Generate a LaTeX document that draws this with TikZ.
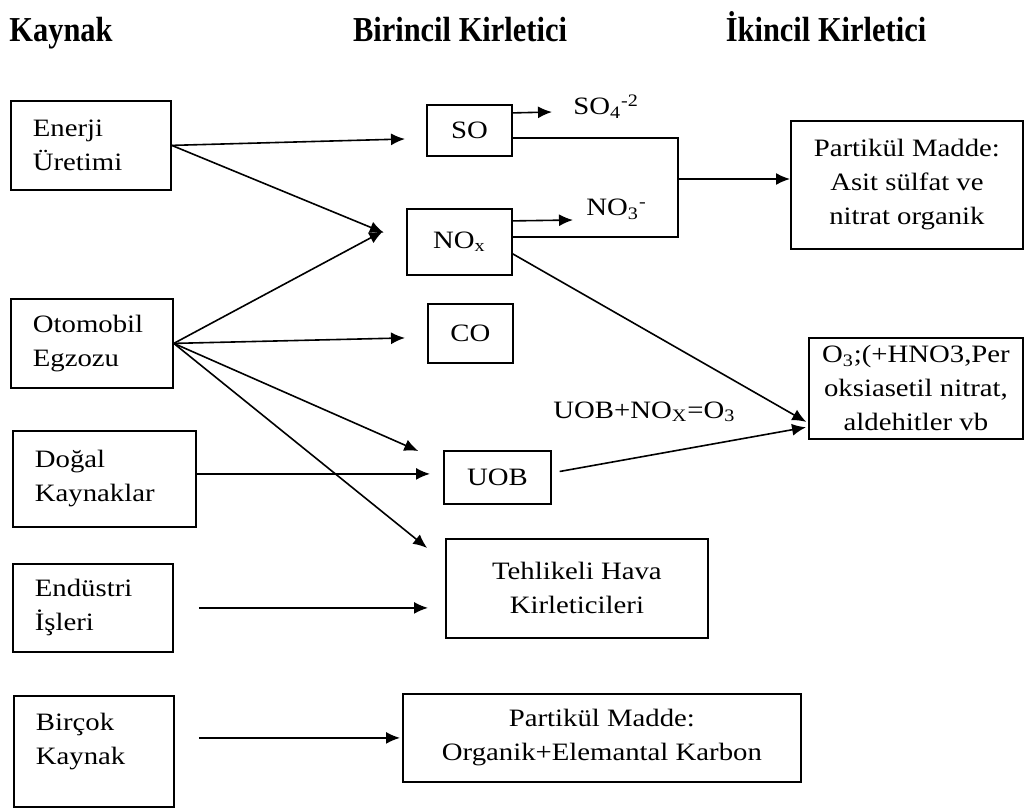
\documentclass[tikz,border=0pt]{standalone}
\usepackage{fontspec}
\setmainfont{Liberation Serif}[FakeStretch=1.15]
\newfontfamily\baslikfont{Liberation Serif}[FakeStretch=0.87]
\usetikzlibrary{arrows.meta,calc}
\tikzset{
  srcbox/.style={draw, line width=0.9pt, anchor=north west, align=left, inner xsep=11pt, text width=#1},
  kbox/.style={draw, line width=0.9pt, anchor=north west, align=center},
  arr/.style={-{Latex[length=7pt,width=6pt]}, line width=0.8pt},
  head/.style={font=\baslikfont\fontsize{17.5}{20}\selectfont\bfseries, inner sep=0}
}

\begin{document}
\begin{tikzpicture}[x=0.5pt,y=-0.5pt,font=\fontsize{12.5}{17}\selectfont]
\useasboundingbox (0,0) rectangle (1036,807);
% basliklar
\node[head, anchor=base west] (h1) at (9,42) {Kaynak};
\node[head, anchor=base] (h2) at (460,42) {Birincil Kirletici};
\node[head, anchor=base] (h3) at (826,42) {İkincil Kirletici};

% kaynaklar
\node[srcbox=58pt, minimum height=44.5pt] (enerji) at (10,100) {Enerji\\Üretimi};
\node[srcbox=59pt, minimum height=44.5pt] (otomobil) at (10,298) {Otomobil\\Egzozu};
\node[srcbox=69.5pt, minimum height=48pt] (dogal) at (12,430) {Doğal\\Kaynaklar};
\node[srcbox=58pt, minimum height=44pt] (endustri) at (12,563) {Endüstri\\İşleri};
\node[srcbox=58pt, minimum height=55.5pt, text depth=30pt] (bircok) at (13,695) {Birçok\\Kaynak};

% birincil kirleticiler
\node[kbox, minimum width=42.5pt, minimum height=25.5pt] (so) at (426,104) {SO};
\node[kbox, minimum width=52.5pt, minimum height=33pt] (nox) at (406,208) {NO\textsubscript{x}};
\node[kbox, minimum width=42.5pt, minimum height=29.5pt] (co) at (427,303) {CO};
\node[kbox, minimum width=53.5pt, minimum height=26.5pt] (uob) at (443,450) {UOB};
\node[kbox, minimum width=131pt, minimum height=49.5pt] (tehlike) at (445,538) {Tehlikeli Hava\\Kirleticileri};
\node[kbox, minimum width=199pt, minimum height=44pt] (pmkarbon) at (402,693) {Partikül Madde:\\Organik+Elemantal Karbon};

% ikincil kirleticiler
\node[kbox, minimum width=116pt, minimum height=64pt] (pmasit) at (790,120) {Partikül Madde:\\Asit sülfat ve\\nitrat organik};
\node[kbox, minimum width=107pt, minimum height=50.5pt] (ozon) at (808,337) {O\textsubscript{3};(+HNO3,Per\\oksiasetil nitrat,\\aldehitler vb};

% ara etiketler
\node[anchor=base west, inner sep=0] (so4) at (573,115) {SO\textsubscript{4}\textsuperscript{-2}};
\node[anchor=base west, inner sep=0] (no3) at (586,216) {NO\textsubscript{3}\textsuperscript{-}};
\node[anchor=base west, inner sep=0] (denklem) at (553,418) {UOB+NO\textsubscript{X}=O\textsubscript{3}};
\coordinate (birles) at (678,179);

% oklar
\draw[arr, shorten >=10.5pt] (enerji.east) -- ([yshift=-4pt]so.west);
\draw[arr, shorten >=12pt] (enerji.east) -- (nox.west);
\draw[arr, shorten >=13pt] (otomobil.east) -- ([yshift=11.5pt]nox.west);
\draw[arr, shorten >=11pt] (otomobil.east) -- ([yshift=-2pt]co.west);
\draw[arr, shorten >=13.5pt] (otomobil.east) -- ([yshift=7.75pt]uob.west);
\draw[arr, shorten >=11.5pt] (otomobil.east) -- ([yshift=13pt]tehlike.west);
\draw[arr, shorten >=6.5pt] ([yshift=2.5pt]dogal.east) -- ([yshift=1.75pt]uob.west);
\draw[arr, shorten <=12.5pt, shorten >=8.5pt] (endustri.east) -- (endustri.east -| tehlike.west);
\draw[arr, shorten <=12pt, shorten >=1pt] (pmkarbon.west -| bircok.east) -- (pmkarbon.west);

\draw[arr] ([yshift=8.75pt]so.east) -- ($(so4.base west)+(-21,-3)$);
\draw[arr] ([yshift=10.5pt]nox.east) -- ($(no3.base west)+(-13,4)$);
\draw[line width=0.8pt] ([yshift=-3.75pt]so.east) -| (birles);
\draw[line width=0.8pt] ([yshift=2.5pt]nox.east) -| (birles);
\draw[arr] (birles) -- (birles -| pmasit.west);

\draw[arr, shorten >=1pt] ([yshift=-6pt]nox.east) -- ([yshift=-17.25pt]ozon.west);
\draw[arr, shorten <=4pt, shorten >=1pt] ([yshift=2.25pt]uob.east) -- ([yshift=-19.25pt]ozon.west);
\end{tikzpicture}
\end{document}
